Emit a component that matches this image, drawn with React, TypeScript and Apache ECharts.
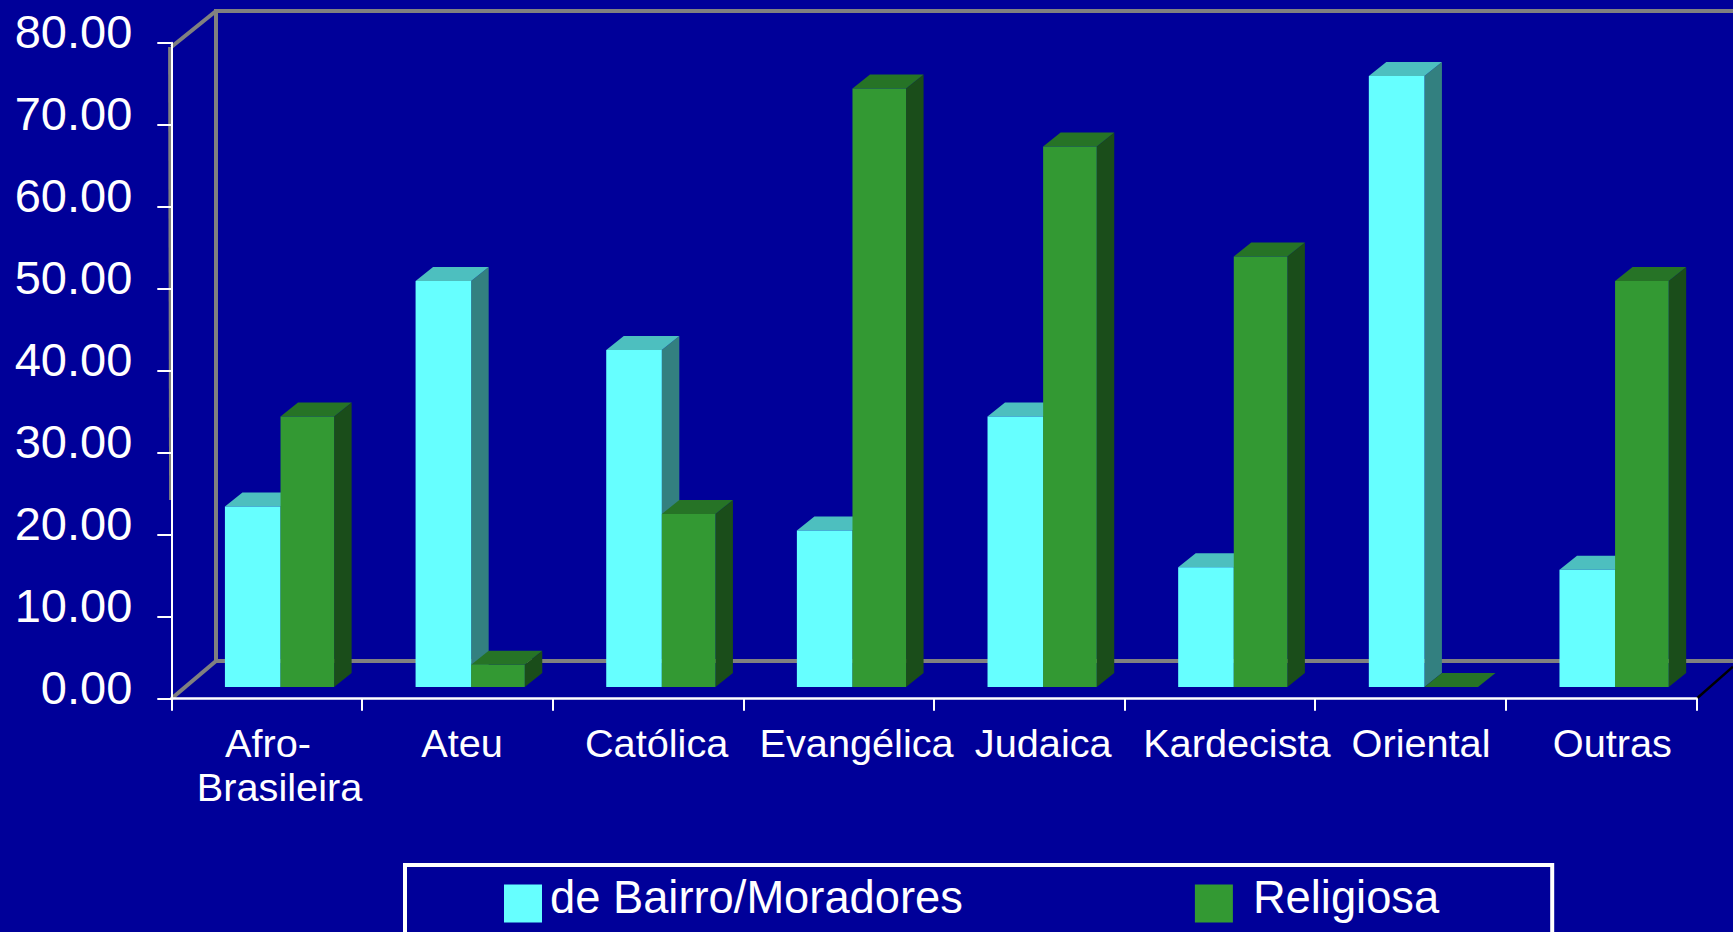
import React, { useEffect, useRef } from "react";
import * as echarts from "echarts";

const categories = ["Afro-\nBrasileira", "Ateu", "Católica", "Evangélica", "Judaica", "Kardecista", "Oriental", "Outras"];
const bairroValues = [22.0, 49.5, 41.1, 19.1, 33.0, 14.6, 74.5, 14.3];
const religiosaValues = [33.0, 2.7, 21.1, 73.0, 65.9, 52.5, 0, 49.5];
const seriesNames = ["de Bairro/Moradores", "Religiosa"];
const yMax = 80;
const yStep = 10;

// Layout of the reference's fake 3D box (pixels)
const W = 1733, H = 932;
const AX_L = 171.3, AX_R = 1696.5, AX_B = 698.7, AX_T = 42.7;
const WALL_L = 216, WALL_T = 11, FLOOR_Y = 661;
const BASE_LIFT = 11.7, PAIR_SHIFT = 13.9, CYAN_W = 55.6, GREEN_W = 53.6, DEPTH_X = 17.5, DEPTH_Y = 14;
const labelNudge: number[][] = [[1.4, 12.9], [4.8], [8.7], [18], [14], [17], [10.5], [11.2]];

const FONT = "'Liberation Sans', Arial, sans-serif";
const BG = "#000099", GRAY = "#808080";
const CYAN = { front: "#66FFFF", top: "#4DBFBF", side: "#338080" };
const GREEN = { front: "#339933", top: "#267326", side: "#1A4D1A" };

const barRenderer = (side: "left" | "right", c: typeof CYAN) => (_: any, api: any) => {
  const i = api.value(0);
  const v = api.value(1);
  const [cx, yv] = api.coord([i, v]);
  const [, y00] = api.coord([i, 0]);
  const mid = cx + PAIR_SHIFT;
  const x0 = side === "left" ? mid - CYAN_W : mid;
  const x1 = side === "left" ? mid : mid + GREEN_W;
  const yTop = yv - BASE_LIFT;
  const yBase = y00 - BASE_LIFT;
  const poly = (points: number[][], fill: string) => ({ type: "polygon", shape: { points }, style: { fill } });
  const children: any[] = [];
  children.push(poly([[x1, yTop], [x1 + DEPTH_X, yTop - DEPTH_Y], [x1 + DEPTH_X, yBase - DEPTH_Y], [x1, yBase]], c.side));
  children.push(poly([[x0, yTop], [x0 + DEPTH_X, yTop - DEPTH_Y], [x1 + DEPTH_X, yTop - DEPTH_Y], [x1, yTop]], c.top));
  children.push({ type: "rect", shape: { x: x0, y: yTop, width: x1 - x0, height: yBase - yTop }, style: { fill: c.front } });
  return { type: "group", children };
};

const wall = (x1: number, y1: number, x2: number, y2: number, stroke = GRAY, lineWidth = 4) => ({
  type: "line",
  silent: true,
  shape: { x1, y1, x2, y2 },
  style: { stroke, lineWidth },
});

export default function App() {
  const ref = useRef<HTMLDivElement>(null);
  useEffect(() => {
    document.body.style.margin = "0";
    document.body.style.overflow = "hidden";
    const chart = echarts.init(ref.current!, null, { renderer: "svg" });
    const rich: Record<string, any> = {};
    labelNudge.forEach((line, ci) =>
      line.forEach((n, li) => {
        rich[`c${ci}l${li}`] = { fontFamily: FONT, fontSize: 39.7, lineHeight: 44, color: "#fff", padding: [0, 0, 0, n * 2] };
      })
    );
    chart.setOption({
      animation: false,
      backgroundColor: BG,
      grid: { left: AX_L, top: AX_T, width: AX_R - AX_L, height: AX_B - AX_T, containLabel: false },
      xAxis: {
        type: "category",
        data: categories,
        axisLine: { lineStyle: { color: "#fff", width: 2.5 } },
        axisTick: { show: true, length: 12, lineStyle: { color: "#fff", width: 2 } },
        axisLabel: {
          interval: 0,
          margin: 22,
          hideOverlap: false,
          formatter: (val: string) => {
            const ci = categories.indexOf(val);
            return val.split("\n").map((t, li) => `{c${ci}l${li}|${t}}`).join("\n");
          },
          rich,
        },
      },
      yAxis: {
        type: "value",
        min: 0,
        max: yMax,
        interval: yStep,
        splitLine: { show: false },
        axisLine: { show: true, lineStyle: { color: "#fff", width: 2 } },
        axisTick: { show: true, length: 14, lineStyle: { color: "#fff", width: 2 } },
        axisLabel: {
          margin: 39,
          formatter: (v: number) => `{a|${v.toFixed(2)}}`,
          rich: { a: { color: "#fff", fontFamily: FONT, fontSize: 47, padding: [0, 0, 23, 0] } },
        },
      },
      legend: {
        left: 405,
        top: 865,
        orient: "horizontal",
        selectedMode: false,
        borderColor: "#fff",
        borderWidth: 4,
        backgroundColor: "transparent",
        padding: [10, 113, 90, 99],
        itemWidth: 38,
        itemHeight: 38,
        itemGap: 232,
        formatter: (name: string) => (name === seriesNames[0] ? `{a|${name}}` : `{b|${name}}`),
        textStyle: {
          color: "#fff",
          fontFamily: FONT,
          fontSize: 45.3,
          rich: {
            a: { color: "#fff", fontFamily: FONT, fontSize: 45.3, padding: [0, 0, 12, 3] },
            b: { color: "#fff", fontFamily: FONT, fontSize: 45.3, padding: [0, 0, 12, 15] },
          },
        },
        data: [
          { name: seriesNames[0], icon: "rect", itemStyle: { color: CYAN.front } },
          { name: seriesNames[1], icon: "rect", itemStyle: { color: GREEN.front } },
        ],
      },
      graphic: {
        elements: [
          wall(WALL_L, WALL_T, W, WALL_T),
          wall(WALL_L, WALL_T - 2, WALL_L, FLOOR_Y),
          wall(WALL_L, FLOOR_Y, W, FLOOR_Y),
          wall(AX_L, 47, WALL_L, WALL_T),
          wall(AX_L, AX_B, WALL_L, FLOOR_Y),
          wall(169.6, 47, 170.6, 500, GRAY, 3),
          wall(AX_R, AX_B, W, 666.7, "#000", 2.5),
        ],
      },
      series: [
        {
          type: "custom",
          name: seriesNames[0],
          itemStyle: { color: CYAN.front },
          renderItem: barRenderer("left", CYAN),
          data: bairroValues.map((v, i) => [i, v]),
          encode: { x: 0, y: 1 },
        },
        {
          type: "custom",
          name: seriesNames[1],
          itemStyle: { color: GREEN.front },
          renderItem: barRenderer("right", GREEN),
          data: religiosaValues.map((v, i) => [i, v]),
          encode: { x: 0, y: 1 },
        },
      ],
    });
    return () => chart.dispose();
  }, []);
  return <div ref={ref} style={{ width: W, height: H }} />;
}
